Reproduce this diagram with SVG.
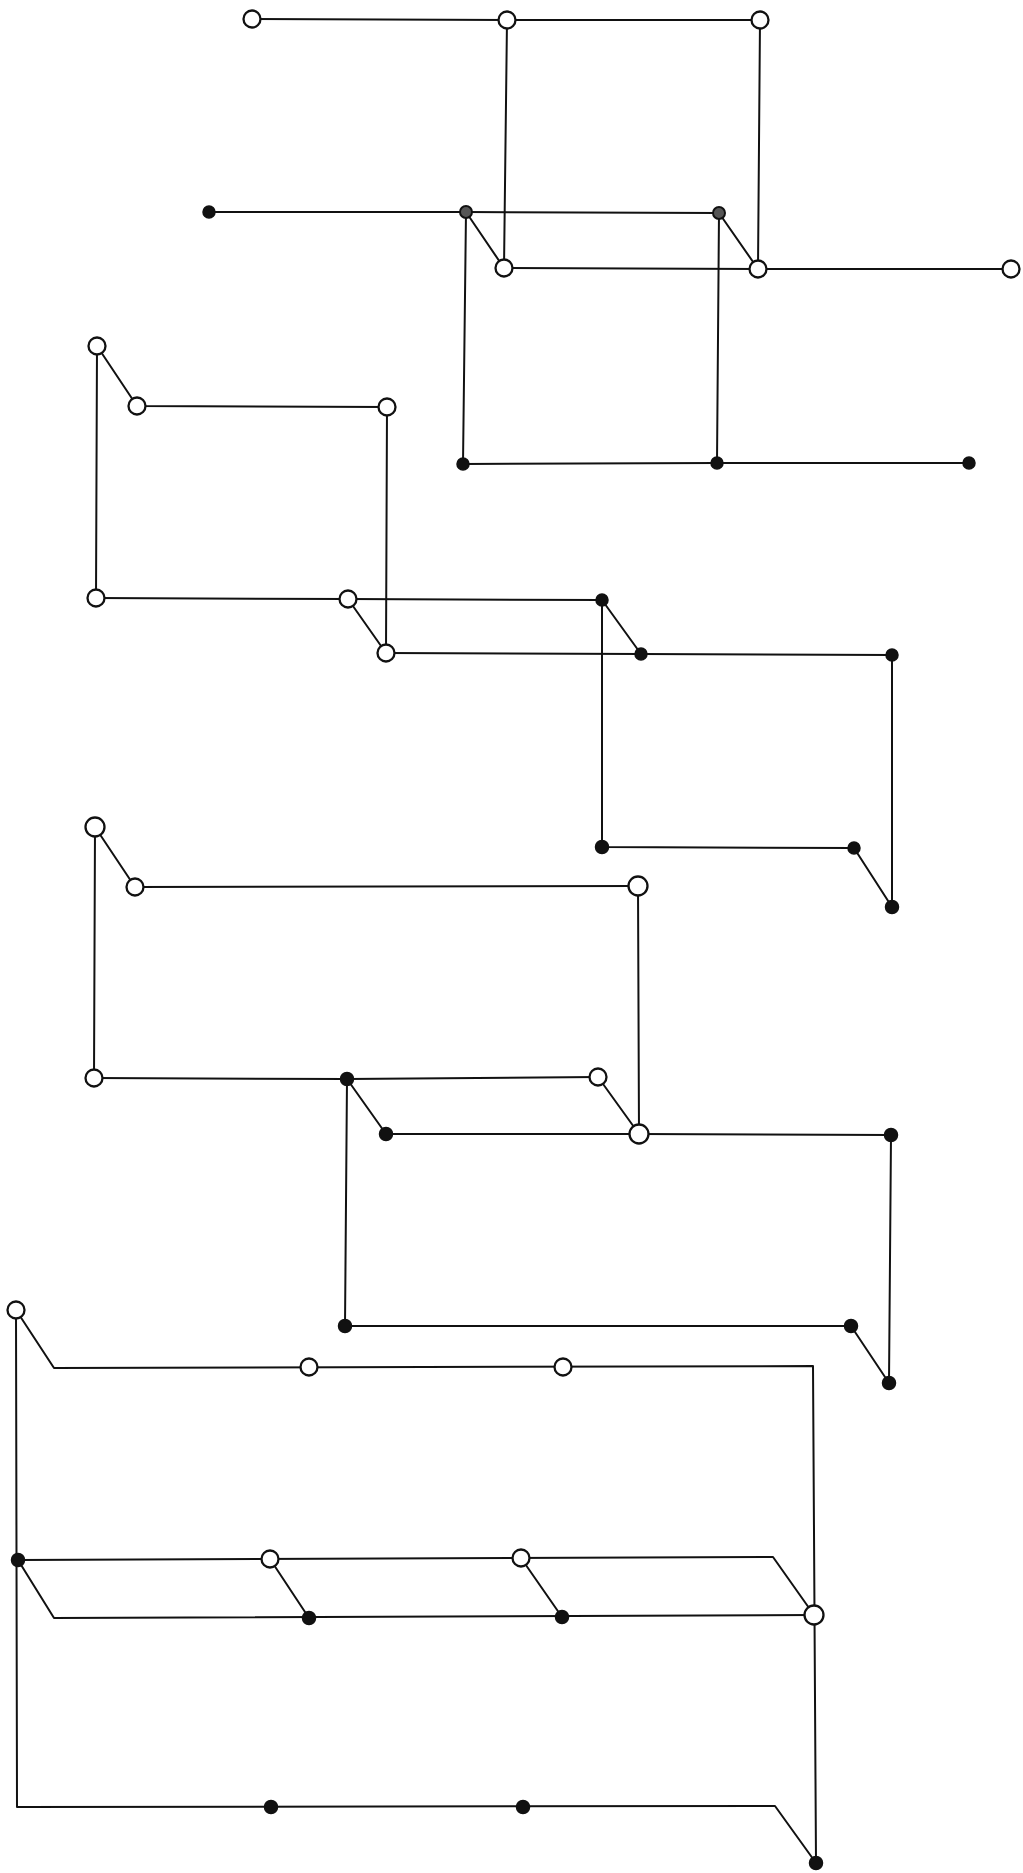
<svg xmlns="http://www.w3.org/2000/svg" width="1023" height="1873" viewBox="0 0 1023 1873">
<style>
.bg{fill:#ffffff}
.w{fill:none;stroke:#111;stroke-width:2;stroke-linecap:round;stroke-linejoin:round}
.o{fill:#ffffff;stroke:#111;stroke-width:2.3}
.f{fill:#111;stroke:#111;stroke-width:1.5}
.h{fill:#555;stroke:#111;stroke-width:2}
</style>
<rect class="bg" x="0" y="0" width="1023" height="1873"/>
<g id="connectors">
<path class="w" d="M252,19 L507,20 L760,20"/>
<path class="w" d="M507,20 L504,268"/>
<path class="w" d="M760,20 L758,269"/>
<path class="w" d="M209,212 L466,212 L719,213"/>
<path class="w" d="M466,212 L504,268"/>
<path class="w" d="M719,213 L758,269"/>
<path class="w" d="M504,268 L758,269 L1011,269"/>
<path class="w" d="M466,212 L463,464"/>
<path class="w" d="M719,213 L717,463"/>
<path class="w" d="M463,464 L717,463 L969,463"/>

<path class="w" d="M97,346 L137,406 L387,407"/>
<path class="w" d="M97,346 L96,598"/>
<path class="w" d="M387,407 L386,653"/>
<path class="w" d="M96,598 L348,599 L602,600"/>
<path class="w" d="M348,599 L386,653"/>
<path class="w" d="M602,600 L641,654"/>
<path class="w" d="M386,653 L641,654 L892,655"/>
<path class="w" d="M602,600 L602,847 L854,848 L892,907"/>
<path class="w" d="M892,655 L892,907"/>

<path class="w" d="M95,827 L135,887 L638,886"/>
<path class="w" d="M95,827 L94,1078"/>
<path class="w" d="M638,886 L639,1134"/>
<path class="w" d="M94,1078 L347,1079 L598,1077"/>
<path class="w" d="M347,1079 L386,1134"/>
<path class="w" d="M598,1077 L639,1134"/>
<path class="w" d="M386,1134 L639,1134 L891,1135"/>
<path class="w" d="M347,1079 L345,1326 L851,1326 L889,1383"/>
<path class="w" d="M891,1135 L889,1383"/>

<path class="w" d="M16,1310 L54,1368 L813,1366 L816,1863"/>
<path class="w" d="M16,1310 L17,1807 L775,1806 L816,1863"/>
<path class="w" d="M18,1560 L773,1557 L814,1615"/>
<path class="w" d="M18,1560 L54,1618 L814,1615"/>
<path class="w" d="M270,1559 L309,1618"/>
<path class="w" d="M521,1558 L562,1617"/>
</g>

<g id="A1"><circle class="o" cx="252" cy="19" r="8.5"/></g>
<g id="A2"><circle class="o" cx="507" cy="20" r="8.5"/></g>
<g id="A3"><circle class="o" cx="760" cy="20" r="8.5"/></g>
<g id="B1"><circle class="f" cx="209" cy="212" r="6"/></g>
<g id="B2"><circle class="h" cx="466" cy="212" r="6"/></g>
<g id="B3"><circle class="h" cx="719" cy="213" r="6"/></g>
<g id="C1"><circle class="o" cx="504" cy="268" r="8.5"/></g>
<g id="C2"><circle class="o" cx="758" cy="269" r="8.5"/></g>
<g id="C3"><circle class="o" cx="1011" cy="269" r="8.5"/></g>
<g id="D1"><circle class="f" cx="463" cy="464" r="6"/></g>
<g id="D2"><circle class="f" cx="717" cy="463" r="6"/></g>
<g id="D3"><circle class="f" cx="969" cy="463" r="6"/></g>

<g id="E1"><circle class="o" cx="97" cy="346" r="8.5"/></g>
<g id="E2"><circle class="o" cx="137" cy="406" r="8.5"/></g>
<g id="E3"><circle class="o" cx="387" cy="407" r="8.5"/></g>
<g id="F1"><circle class="o" cx="96" cy="598" r="8.5"/></g>
<g id="F2"><circle class="o" cx="348" cy="599" r="8.5"/></g>
<g id="F3"><circle class="f" cx="602" cy="600" r="6"/></g>
<g id="G1"><circle class="o" cx="386" cy="653" r="8.5"/></g>
<g id="G2"><circle class="f" cx="641" cy="654" r="6"/></g>
<g id="G3"><circle class="f" cx="892" cy="655" r="6"/></g>
<g id="H1"><circle class="f" cx="602" cy="847" r="6.5"/></g>
<g id="H2"><circle class="f" cx="854" cy="848" r="6"/></g>
<g id="H3"><circle class="f" cx="892" cy="907" r="6.5"/></g>

<g id="I1"><circle class="o" cx="95" cy="827" r="9.5"/></g>
<g id="I2"><circle class="o" cx="135" cy="887" r="8.5"/></g>
<g id="I3"><circle class="o" cx="638" cy="886" r="9.5"/></g>
<g id="J1"><circle class="o" cx="94" cy="1078" r="8.5"/></g>
<g id="J2"><circle class="f" cx="347" cy="1079" r="6.5"/></g>
<g id="J3"><circle class="o" cx="598" cy="1077" r="8.5"/></g>
<g id="K1"><circle class="f" cx="386" cy="1134" r="6.5"/></g>
<g id="K2"><circle class="o" cx="639" cy="1134" r="9.5"/></g>
<g id="K3"><circle class="f" cx="891" cy="1135" r="6.5"/></g>
<g id="L1"><circle class="f" cx="345" cy="1326" r="6.5"/></g>
<g id="L2"><circle class="f" cx="851" cy="1326" r="6.5"/></g>
<g id="L3"><circle class="f" cx="889" cy="1383" r="6.5"/></g>

<g id="M1"><circle class="o" cx="16" cy="1310" r="8.5"/></g>
<g id="M2"><circle class="o" cx="309" cy="1367" r="8.5"/></g>
<g id="M3"><circle class="o" cx="563" cy="1367" r="8.5"/></g>
<g id="N1"><circle class="f" cx="18" cy="1560" r="6.5"/></g>
<g id="N2"><circle class="o" cx="270" cy="1559" r="8.5"/></g>
<g id="N3"><circle class="o" cx="521" cy="1558" r="8.5"/></g>
<g id="P2"><circle class="f" cx="309" cy="1618" r="6.5"/></g>
<g id="P3"><circle class="f" cx="562" cy="1617" r="6.5"/></g>
<g id="Q"><circle class="o" cx="814" cy="1615" r="9.5"/></g>
<g id="R1"><circle class="f" cx="271" cy="1807" r="6.5"/></g>
<g id="R2"><circle class="f" cx="523" cy="1807" r="6.5"/></g>
<g id="S"><circle class="f" cx="816" cy="1863" r="6.5"/></g>
</svg>
